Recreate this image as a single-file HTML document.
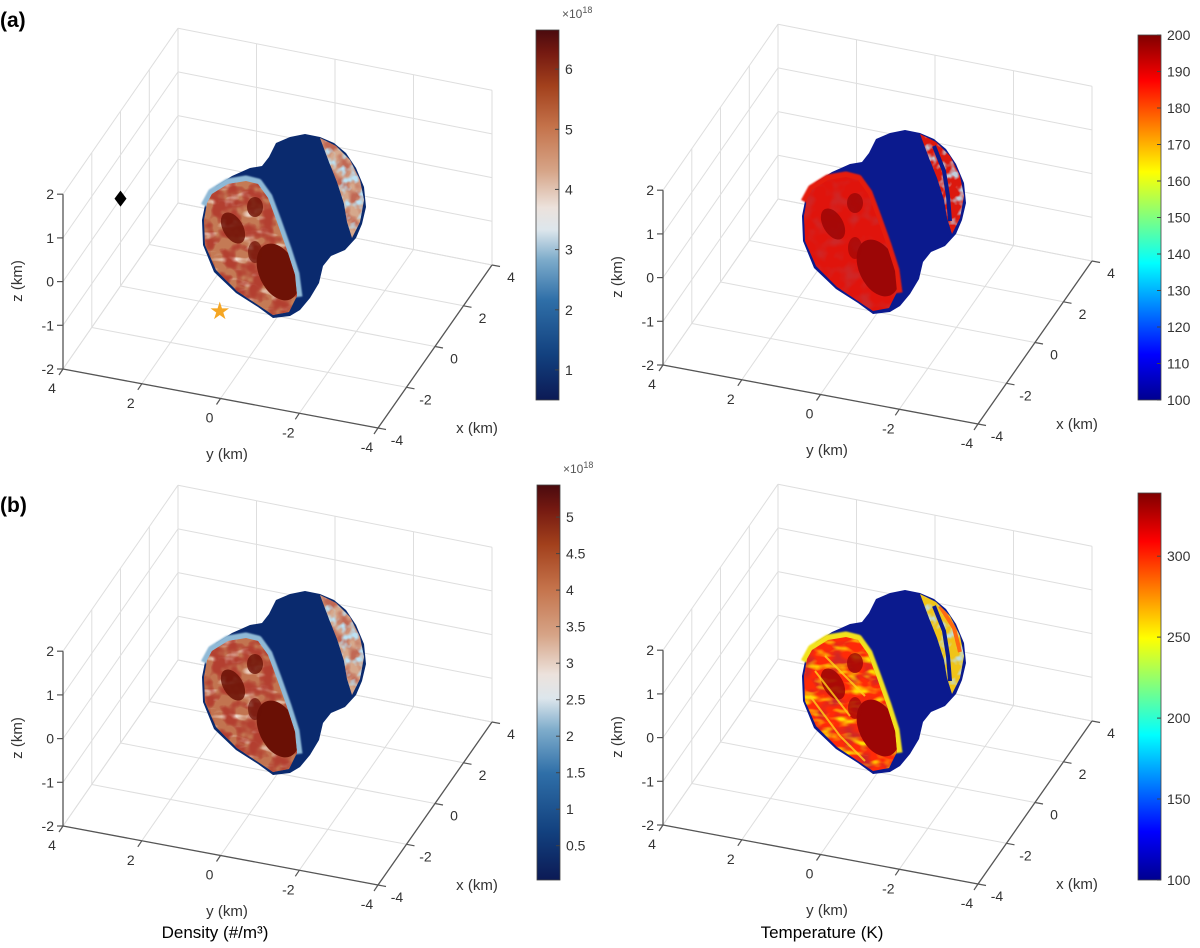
<!DOCTYPE html>
<html><head><meta charset="utf-8"><title>Comet density and temperature</title>
<style>
html,body{margin:0;padding:0;background:#fff;}
svg{display:block;font-family:"Liberation Sans","DejaVu Sans",sans-serif;}
</style></head>
<body>
<svg id="fig" xmlns="http://www.w3.org/2000/svg" width="1200" height="948" viewBox="0 0 1200 948">
<defs>
  <linearGradient id="gBal" x1="0" y1="1" x2="0" y2="0">
    <stop offset="0" stop-color="#0c1a55"/><stop offset="0.12" stop-color="#12407e"/>
    <stop offset="0.27" stop-color="#2f6fa8"/><stop offset="0.38" stop-color="#7eaccb"/>
    <stop offset="0.46" stop-color="#dde6ec"/><stop offset="0.52" stop-color="#ece2dc"/>
    <stop offset="0.62" stop-color="#d6a487"/><stop offset="0.74" stop-color="#c4724a"/>
    <stop offset="0.85" stop-color="#a2401c"/><stop offset="0.94" stop-color="#741911"/>
    <stop offset="1" stop-color="#4a0a0e"/>
  </linearGradient>
  <linearGradient id="gJet" x1="0" y1="1" x2="0" y2="0">
    <stop offset="0" stop-color="#00008f"/><stop offset="0.125" stop-color="#0000ff"/>
    <stop offset="0.375" stop-color="#00ffff"/><stop offset="0.625" stop-color="#ffff00"/>
    <stop offset="0.875" stop-color="#ff0000"/><stop offset="1" stop-color="#800000"/>
  </linearGradient>
  <clipPath id="clipLobe" clipPathUnits="userSpaceOnUse"><path d="M212,194 L228,184 246,181 258,184 268,198 277,222 287,250 295,275 297,296 289,312 273,315 258,305 237,291 216,270 205,245 204,220 207,203 Z"/></clipPath>
  <clipPath id="clipStrip" clipPathUnits="userSpaceOnUse"><path d="M320,138 L336,146 350,160 360,180 364,200 360,222 352,238 347,222 344,204 337,182 329,162 Z"/></clipPath>
  <filter id="nDark" filterUnits="userSpaceOnUse" x="190" y="120" width="190" height="210">
    <feTurbulence type="fractalNoise" baseFrequency="0.08" numOctaves="2" seed="3"/>
    <feColorMatrix type="matrix" values="0 0 0 0 0.45  0 0 0 0 0.05  0 0 0 0 0.03  3.4 0 0 0 -1.35"/>
  </filter>
  <filter id="nLight" filterUnits="userSpaceOnUse" x="190" y="120" width="190" height="210">
    <feTurbulence type="fractalNoise" baseFrequency="0.05 0.14" numOctaves="2" seed="8"/>
    <feColorMatrix type="matrix" values="0 0 0 0 0.95  0 0 0 0 0.85  0 0 0 0 0.78  0 3 0 0 -1.6"/>
  </filter>
  <filter id="nYel" filterUnits="userSpaceOnUse" x="190" y="120" width="190" height="210">
    <feTurbulence type="fractalNoise" baseFrequency="0.06 0.13" numOctaves="2" seed="5"/>
    <feColorMatrix type="matrix" values="0 0 0 0 1  0 0 0 0 0.72  0 0 0 0 0  0 3.2 0 0 -1.5"/>
  </filter>
  <filter id="nRed" filterUnits="userSpaceOnUse" x="190" y="120" width="190" height="210">
    <feTurbulence type="fractalNoise" baseFrequency="0.07" numOctaves="2" seed="11"/>
    <feColorMatrix type="matrix" values="0 0 0 0 0.62  0 0 0 0 0.02  0 0 0 0 0.02  3 0 0 0 -1.35"/>
  </filter>
  <filter id="nBlue" filterUnits="userSpaceOnUse" x="190" y="120" width="190" height="210">
    <feTurbulence type="fractalNoise" baseFrequency="0.12" numOctaves="2" seed="2"/>
    <feColorMatrix type="matrix" values="0 0 0 0 0.5  0 0 0 0 0.75  0 0 0 0 0.9  0 0 3.4 0 -1.6"/>
  </filter>
  <filter id="blur1"><feGaussianBlur stdDeviation="0.8"/></filter>
</defs>
<g id="root"></g>
</svg>
<script>
// ---- axis tick data ----
const zTicks = [-2, -1, 0, 1, 2];
const yTicks = [4, 2, 0, -2, -4];
const xTicks = [-4, -2, 0, 2, 4];
// ---- colorbar data ----
const densATicks = [1, 2, 3, 4, 5, 6];
const densARange = [0.5, 6.65];
const tempATicks = [100, 110, 120, 130, 140, 150, 160, 170, 180, 190, 200];
const tempARange = [100, 200];
const densBTicks = [0.5, 1, 1.5, 2, 2.5, 3, 3.5, 4, 4.5, 5];
const densBRange = [0.03, 5.44];
const tempBTicks = [100, 150, 200, 250, 300];
const tempBRange = [100, 339];
// marker positions (km): [x, y, z]
const diamondPos = [0, 4, 0];
const starPos = [-0.26, 1.38, -2];

const NS = 'http://www.w3.org/2000/svg';
const root = document.getElementById('root');
const FA = [63, 369], FB = [378, 428], FC = [492, 265], FD = [178, 203];
const ZS = 43.7;

function mk(tag, attrs, parent) {
  const e = document.createElementNS(NS, tag);
  for (const k in attrs) e.setAttribute(k, attrs[k]);
  (parent || root).appendChild(e);
  return e;
}
function proj(p, x, y, z) {
  const u = (4 - y) / 8, v = (x + 4) / 8;
  const X = FA[0]*(1-u)*(1-v) + FB[0]*u*(1-v) + FC[0]*u*v + FD[0]*(1-u)*v;
  const Y = FA[1]*(1-u)*(1-v) + FB[1]*u*(1-v) + FC[1]*u*v + FD[1]*(1-u)*v;
  return [p.ox + X, p.oy + Y - (z + 2) * ZS];
}
function line(g, a, b, stroke, w) {
  return mk('line', {x1: a[0].toFixed(1), y1: a[1].toFixed(1), x2: b[0].toFixed(1), y2: b[1].toFixed(1), stroke: stroke, 'stroke-width': w}, g);
}
function txt(g, x, y, s, size, anchor, extra) {
  const t = mk('text', Object.assign({x: x.toFixed(1), y: y.toFixed(1), 'font-size': size, fill: '#333', 'text-anchor': anchor || 'middle'}, extra || {}), g);
  t.textContent = s;
  return t;
}

const panels = [
  {ox: 0, oy: 0, name: 'density-a', cb: {x: 536, y0: 30, y1: 400, range: densARange, ticks: densATicks, grad: 'gBal', exp: true}, scheme: 'densA', markers: true},
  {ox: 600, oy: -4, name: 'temperature-a', cb: {x: 1138, y0: 35, y1: 400, range: tempARange, ticks: tempATicks, grad: 'gJet', exp: false}, scheme: 'tempA', markers: false},
  {ox: 0, oy: 457, name: 'density-b', cb: {x: 537, y0: 485, y1: 880, range: densBRange, ticks: densBTicks, grad: 'gBal', exp: true}, scheme: 'densB', markers: false},
  {ox: 600, oy: 456, name: 'temperature-b', cb: {x: 1138, y0: 493, y1: 880, range: tempBRange, ticks: tempBTicks, grad: 'gJet', exp: false}, scheme: 'tempB', markers: false}
];

const schemes = {
  densA: {base: '#0a2a6e', lobe: '#c47a55', dark: '#6e1206', noise: ['nDark', 'nLight', 'nDark'], fringe: '#8fb9d6', fringe2: '#e9e4e0', strip: '#d6a88c'},
  densB: {base: '#0a2a6e', lobe: '#c27450', dark: '#6a1005', noise: ['nDark', 'nLight', 'nDark'], fringe: '#8fb9d6', fringe2: '#efe5de', strip: '#d6a88c'},
  tempA: {base: '#0b1a8e', lobe: '#e0140c', dark: '#9c0606', noise: ['nRed'], fringe: '#e41a0e', fringe2: '#d8140c', strip: '#dc180e'},
  tempB: {base: '#0b1a8e', lobe: '#ff2a08', dark: '#9c0505', noise: ['nRed', 'nYel'], fringe: '#f2e21e', fringe2: '#3fe6d6', strip: '#f0c418'}
};

function drawComet(p, g) {
  const s = schemes[p.scheme];
  const cg = mk('g', {transform: 'translate(' + p.ox + ',' + p.oy + ')'}, g);
  
  
  const sil = mk('path', {d: 'M269,157 L276,143 290,137 305,134 320,137 334,143 346,153 356,168 364,187 366,207 362,224 356,238 345,250 331,256 323,266 319,283 310,298 300,310 290,316 273,318 258,307 236,293 214,272 203,245 202,220 206,200 216,186 232,176 250,168 262,166 Z', fill: s.base}, cg);
  
  
  const sg = mk('g', {'clip-path': 'url(#clipStrip)'}, cg);
  
  
  mk('rect', {x: 300, y: 130, width: 80, height: 120, fill: s.strip}, sg);
  if (p.scheme === 'tempA' || p.scheme === 'tempB') {
    mk('rect', {x: 300, y: 130, width: 80, height: 120, fill: '#fff', filter: 'url(#nBlue)', opacity: 0.9}, sg);
    mk('path', {d: 'M334,150 L344,175 348,200 350,225', stroke: s.base, 'stroke-width': 4, fill: 'none'}, sg);
  } else {
    mk('rect', {x: 300, y: 130, width: 80, height: 120, fill: '#fff', filter: 'url(#nDark)', opacity: 0.6}, sg);
    mk('rect', {x: 300, y: 130, width: 80, height: 120, fill: '#fff', filter: 'url(#nBlue)'}, sg);
  }
  if (p.scheme === 'tempB') {
    mk('path', {d: 'M340,150 L354,172 360,196', stroke: '#ff6a10', 'stroke-width': 4, fill: 'none'}, sg);
  }
  const fr = mk('path', {d: 'M205,206 L212,193 228,183 246,180 258,183 268,197 277,221 287,249 295,274 298,297', stroke: s.fringe, 'stroke-width': 9, fill: 'none', 'stroke-linejoin': 'round', filter: 'url(#blur1)'}, cg);
  
  
  mk('path', {d: 'M252,186 L262,194 272,218 282,248 290,275', stroke: s.fringe2, 'stroke-width': 3, fill: 'none', 'stroke-dasharray': '6 4'}, cg);
  const lg = mk('g', {'clip-path': 'url(#clipLobe)'}, cg);
  
  
  mk('rect', {x: 195, y: 170, width: 110, height: 155, fill: s.lobe}, lg);
  s.noise.forEach(function (f) { mk('rect', {x: 195, y: 170, width: 110, height: 155, fill: '#fff', filter: 'url(#' + f + ')'}, lg); });
  mk('ellipse', {cx: 278, cy: 272, rx: 19, ry: 30, fill: s.dark, transform: 'rotate(-25 278 272)'}, lg);
  mk('ellipse', {cx: 233, cy: 228, rx: 10, ry: 17, fill: s.dark, opacity: 0.85, transform: 'rotate(-30 233 228)'}, lg);
  mk('ellipse', {cx: 255, cy: 207, rx: 8, ry: 10, fill: s.dark, opacity: 0.8}, lg);
  mk('ellipse', {cx: 255, cy: 252, rx: 7, ry: 11, fill: s.dark, opacity: 0.7}, lg);
  if (p.scheme === 'tempB') {
    mk('path', {d: 'M210,240 L240,280 265,305 M215,215 L250,260 M225,200 L265,240', stroke: '#ffd21a', 'stroke-width': 2, fill: 'none', opacity: 0.8}, lg);
  }
}

function drawPanel(p) {
  const g = mk('g', {});
  
  
  const grid = mk('g', {}, g);
  
  
  const gc = '#dedede';
  xTicks.forEach(function (xv) { line(grid, proj(p, xv, 4, -2), proj(p, xv, -4, -2), gc, 1); line(grid, proj(p, xv, 4, -2), proj(p, xv, 4, 2), gc, 1); });
  yTicks.forEach(function (yv) { line(grid, proj(p, -4, yv, -2), proj(p, 4, yv, -2), gc, 1); line(grid, proj(p, 4, yv, -2), proj(p, 4, yv, 2), gc, 1); });
  zTicks.forEach(function (zv) { line(grid, proj(p, -4, 4, zv), proj(p, 4, 4, zv), gc, 1); line(grid, proj(p, 4, 4, zv), proj(p, 4, -4, zv), gc, 1); });

  drawComet(p, g);

  const ax = mk('g', {}, g);
  
  
  const ac = '#555';
  const za = line(ax, proj(p, -4, 4, -2), proj(p, -4, 4, 2), ac, 1.3);
  
  
  const ya = line(ax, proj(p, -4, 4, -2), proj(p, -4, -4, -2), ac, 1.3);
  
  
  const xa = line(ax, proj(p, -4, -4, -2), proj(p, 4, -4, -2), ac, 1.3);
  
  
  zTicks.forEach(function (zv) {
    const q = proj(p, -4, 4, zv);
    line(ax, q, [q[0] - 6, q[1]], ac, 1.2);
    const t = txt(ax, q[0] - 9, q[1] + 5, String(zv), 14, 'end');
    
    
  });
  yTicks.forEach(function (yv) {
    const q = proj(p, -4, yv, -2);
    line(ax, q, [q[0] - 4, q[1] + 6], ac, 1.2);
    const t = txt(ax, q[0] - 11, q[1] + 24, String(yv), 14, 'middle');
    
    
  });
  xTicks.forEach(function (xv) {
    const q = proj(p, xv, -4, -2);
    line(ax, q, [q[0] + 8, q[1] + 1.5], ac, 1.2);
    const t = txt(ax, q[0] + 19, q[1] + 17, String(xv), 14, 'middle');
    
    
  });
  const zt = txt(ax, 0, 0, 'z (km)', 15, 'middle', {transform: 'translate(' + (p.ox + 22) + ',' + (p.oy + 281) + ') rotate(-90)'});
  
  
  const yt = txt(ax, p.ox + 227, p.oy + 459, 'y (km)', 15, 'middle');
  
  
  const xt = txt(ax, p.ox + 477, p.oy + 433, 'x (km)', 15, 'middle');
  
  

  if (p.markers) {
    const d = proj(p, diamondPos[0], diamondPos[1], diamondPos[2]);
    const dm = mk('path', {d: 'M' + d[0].toFixed(1) + ',' + (d[1] - 8).toFixed(1) + ' l6,8 l-6,8 l-6,-8 Z', fill: '#000'}, g);
    
    
    const s = proj(p, starPos[0], starPos[1], starPos[2]);
    const st = mk('text', {x: s[0].toFixed(1), y: (s[1] + 8).toFixed(1), 'font-size': 24, fill: '#f5a623', 'text-anchor': 'middle', 'font-family': '"DejaVu Sans",sans-serif'}, g);
    st.textContent = '★';
    
    
  }

  const cb = p.cb;
  const cg = mk('g', {}, g);
  
  
  const r = mk('rect', {x: cb.x, y: cb.y0, width: 23, height: cb.y1 - cb.y0, fill: 'url(#' + cb.grad + ')', stroke: '#444', 'stroke-width': 0.8}, cg);
  
  
  const cy = function (v) { return cb.y1 - (v - cb.range[0]) / (cb.range[1] - cb.range[0]) * (cb.y1 - cb.y0); };
  cb.ticks.forEach(function (v) {
    const y = cy(v);
    line(cg, [cb.x + 23, y], [cb.x + 19, y], '#444', 1);
    const t = txt(cg, cb.x + 29, y + 5, String(v), 14, 'start');
    
    
  });
  if (cb.exp) {
    const e = mk('text', {x: cb.x + 26, y: cb.y0 - 12, 'font-size': 12, fill: '#555'}, cg);
    
    
    e.appendChild(document.createTextNode('×10'));
    const sp = mk('tspan', {dy: -5, 'font-size': 9}, e);
    sp.textContent = '18';
  }
}

panels.forEach(drawPanel);

const la = mk('text', {x: 0, y: 27, 'font-size': 21, 'font-weight': 'bold', fill: '#000'});
la.textContent = '(a)';


const lb = mk('text', {x: 0, y: 512, 'font-size': 21, 'font-weight': 'bold', fill: '#000'});
lb.textContent = '(b)';


const cd = mk('text', {x: 215, y: 938, 'font-size': 17, fill: '#000', 'text-anchor': 'middle'});
cd.textContent = 'Density (#/m³)';


const ct = mk('text', {x: 822, y: 938, 'font-size': 17, fill: '#000', 'text-anchor': 'middle'});
ct.textContent = 'Temperature (K)';


</script>
</body></html>
